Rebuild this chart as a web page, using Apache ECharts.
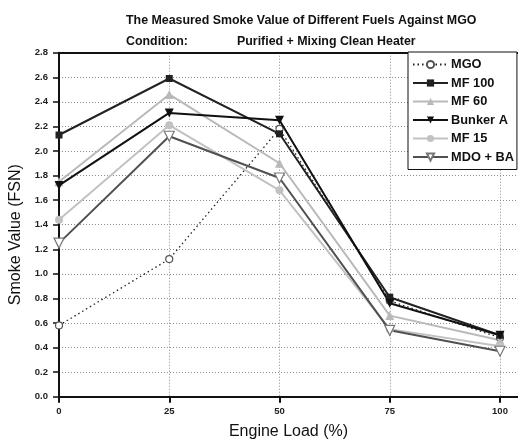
<!DOCTYPE html>
<html>
<head>
<meta charset="utf-8">
<script src="https://cdn.jsdelivr.net/npm/echarts@6/dist/echarts.min.js"></script>
<style>
  html, body { margin: 0; padding: 0; background: #fff; }
  #chart { width: 518px; height: 442px; }
</style>
</head>
<body>
<div id="chart"></div>
<script>
// Engine load steps (%)
const engineLoad = [0, 25, 50, 75, 100];

// Smoke value (FSN) per fuel at each load step
const mgo      = [0.58, 1.12, 2.18, 0.78, 0.48];
const mf100    = [2.13, 2.59, 2.14, 0.81, 0.50];
const mf60     = [1.75, 2.46, 1.90, 0.66, 0.46];
const bunkerA  = [1.72, 2.31, 2.25, 0.76, 0.50];
const mf15     = [1.44, 2.21, 1.68, 0.55, 0.41];
const mdoBa    = [1.25, 2.12, 1.78, 0.54, 0.37];

const seriesNames = ['MGO', 'MF 100', 'MF 60', 'Bunker A', 'MF 15', 'MDO + BA'];

const pairs = (ys) => engineLoad.map((x, i) => [x, ys[i]]);

const FONT = '"Liberation Sans", Arial, sans-serif';

const chart = echarts.init(document.getElementById('chart'), null, { renderer: 'canvas' });

chart.setOption({
  animation: false,
  backgroundColor: '#ffffff',
  title: [
    {
      text: 'The Measured Smoke Value of Different Fuels Against MGO',
      left: 121, top: 10,
      textStyle: { fontFamily: FONT, fontSize: 12.4, fontWeight: 'bold', color: '#111' }
    },
    {
      text: 'Condition:',
      left: 121, top: 31,
      textStyle: { fontFamily: FONT, fontSize: 12.4, fontWeight: 'bold', color: '#111' }
    },
    {
      text: 'Purified + Mixing Clean Heater',
      left: 232, top: 31,
      textStyle: { fontFamily: FONT, fontSize: 12.4, fontWeight: 'bold', color: '#111' }
    }
  ],
  legend: {
    orient: 'vertical',
    left: 408, top: 52,
    padding: [6, 3, 6, 4],
    itemWidth: 35,
    itemHeight: 9,
    itemGap: 5.5,
    backgroundColor: '#ffffff',
    borderColor: '#111',
    borderWidth: 1,
    textStyle: { fontFamily: FONT, fontSize: 12.8, fontWeight: 'bold', color: '#111', padding: [0, 0, 0, -2] },
    data: seriesNames
  },
  grid: { left: 59, right: 0, top: 52.7, bottom: 45.3, outerBoundsMode: 'none', containLabel: false },
  xAxis: [
    {
      type: 'value',
      min: 0, max: 104.08, interval: 25,
      name: 'Engine Load (%)',
      nameLocation: 'middle',
      nameGap: 27,
      nameTextStyle: { fontFamily: FONT, fontSize: 16, color: '#111' },
      axisLine: { show: true, onZero: false, lineStyle: { color: '#111', width: 2 } },
      axisTick: { show: true, length: 6, lineStyle: { color: '#111', width: 2 } },
      axisLabel: {
        showMaxLabel: false,
        margin: 10,
        fontFamily: FONT, fontSize: 9.5, fontWeight: 'bold', color: '#222',
        formatter: (v) => (v % 25 === 0 ? String(v) : '')
      },
      splitLine: { show: true, lineStyle: { color: '#8a8a8a', width: 1, type: [1, 2] } }
    },
    {
      type: 'value',
      position: 'top',
      min: 0, max: 104.08,
      axisLine: { show: true, onZero: false, lineStyle: { color: '#111', width: 2 } },
      axisTick: { show: false },
      axisLabel: { show: false },
      splitLine: { show: false }
    }
  ],
  yAxis: {
    type: 'value',
    min: 0, max: 2.8, interval: 0.2,
    name: 'Smoke Value (FSN)',
    nameLocation: 'middle',
    nameGap: 30,
    nameTextStyle: { fontFamily: FONT, fontSize: 16, color: '#111', padding: [0, 20, 0, 0] },
    axisLine: { show: true, lineStyle: { color: '#111', width: 2 } },
    axisTick: { show: true, length: 6, lineStyle: { color: '#111', width: 1.5 } },
    axisLabel: {
      margin: 11,
      fontFamily: FONT, fontSize: 9.5, fontWeight: 'bold', color: '#222',
      formatter: (v) => v.toFixed(1)
    },
    splitLine: { show: true, lineStyle: { color: '#8a8a8a', width: 1, type: [1, 2] } }
  },
  series: [
    {
      name: 'MGO', type: 'line', data: pairs(mgo), z: 3,
      symbol: 'circle', symbolSize: 7,
      lineStyle: { color: '#222', width: 1.3, type: [1.5, 3] },
      itemStyle: { color: '#ffffff', borderColor: '#555', borderWidth: 1.2 }
    },
    {
      name: 'MF 100', type: 'line', data: pairs(mf100), z: 4,
      symbol: 'rect', symbolSize: 7,
      lineStyle: { color: '#222', width: 2 },
      itemStyle: { color: '#222', borderColor: '#222', borderWidth: 0 }
    },
    {
      name: 'MF 60', type: 'line', data: pairs(mf60), z: 3,
      symbol: 'triangle', symbolSize: 9,
      lineStyle: { color: '#b9b9b9', width: 2 },
      itemStyle: { color: '#b9b9b9', borderColor: '#b9b9b9', borderWidth: 0 }
    },
    {
      name: 'Bunker A', type: 'line', data: pairs(bunkerA), z: 4,
      symbol: 'triangle', symbolSize: 9, symbolRotate: 180,
      lineStyle: { color: '#111', width: 2 },
      itemStyle: { color: '#111', borderColor: '#111', borderWidth: 0 }
    },
    {
      name: 'MF 15', type: 'line', data: pairs(mf15), z: 3,
      symbol: 'circle', symbolSize: 8,
      lineStyle: { color: '#c2c2c2', width: 2 },
      itemStyle: { color: '#c2c2c2', borderColor: '#c2c2c2', borderWidth: 0 }
    },
    {
      name: 'MDO + BA', type: 'line', data: pairs(mdoBa), z: 3,
      symbol: 'triangle', symbolSize: 10, symbolRotate: 180,
      lineStyle: { color: '#505050', width: 2 },
      itemStyle: { color: '#ffffff', borderColor: '#777', borderWidth: 1.2 }
    }
  ]
});
</script>
</body>
</html>
